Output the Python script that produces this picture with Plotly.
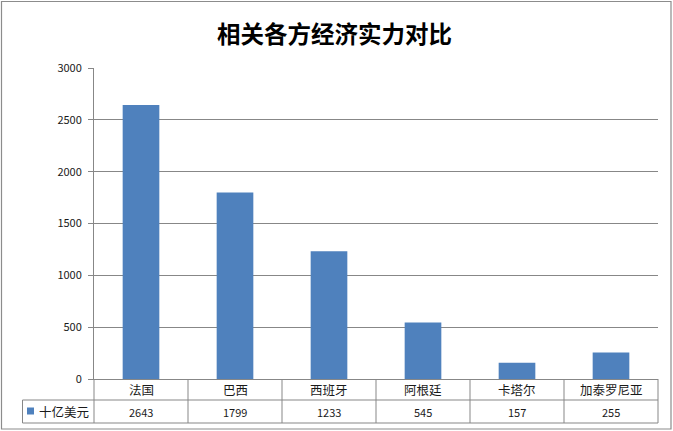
import plotly.graph_objects as go

# 数据
categories = ["法国", "巴西", "西班牙", "阿根廷", "卡塔尔", "加泰罗尼亚"]
values = [2643, 1799, 1233, 545, 157, 255]
series_name = "十亿美元"
y_ticks = [0, 500, 1000, 1500, 2000, 2500, 3000]

# 样式常量
BAR_COLOR = "#4F81BD"
LINE_COLOR = "#878787"
FONT = "Noto Sans CJK SC"

W, H = 673, 431
L, R, T, B = 94, 15, 68, 52


def px_x(p):
    """像素 x -> paper 坐标"""
    return (p - L) / (W - L - R)


def px_y(p):
    """像素 y -> paper 坐标"""
    return (H - B - p) / (H - T - B)


fig = go.Figure()
fig.add_trace(go.Bar(
    x=categories,
    y=values,
    name=series_name,
    marker=dict(color=BAR_COLOR, line=dict(width=0)),
    width=0.39,
    showlegend=False,
))

fig.update_layout(
    width=W,
    height=H,
    margin=dict(l=L, r=R, t=T, b=B),
    paper_bgcolor="white",
    plot_bgcolor="white",
    font=dict(family=FONT, color="#1a1a1a"),
    title=dict(
        text="<b>相关各方经济实力对比</b>",
        x=0.497, xanchor="center",
        y=1 - 35 / H, yanchor="middle",
        font=dict(size=23.5, color="#000000", family=FONT),
    ),
)

fig.update_xaxes(
    showticklabels=False,
    showgrid=False,
    showline=True,
    linecolor=LINE_COLOR,
    linewidth=1,
    ticks="",
    range=[-0.5, len(categories) - 0.5],
)
fig.update_yaxes(
    range=[0, 3000],
    tickvals=y_ticks,
    showgrid=True,
    gridcolor=LINE_COLOR,
    gridwidth=1,
    zeroline=False,
    showline=True,
    linecolor=LINE_COLOR,
    linewidth=1,
    ticks="outside",
    ticklen=5,
    tickcolor=LINE_COLOR,
    tickfont=dict(size=11, color="#1a1a1a", family=FONT),
    ticklabelstandoff=4,
)

shapes = []
y_mid = px_y(400)
y_bot = px_y(423)
# 表格横线
shapes.append(dict(type="line", xref="paper", yref="paper",
                   x0=0, x1=1, y0=y_mid, y1=y_mid,
                   line=dict(color=LINE_COLOR, width=1)))
shapes.append(dict(type="line", xref="paper", yref="paper",
                   x0=px_x(22.5), x1=1, y0=y_bot, y1=y_bot,
                   line=dict(color=LINE_COLOR, width=1)))
shapes.append(dict(type="line", xref="paper", yref="paper",
                   x0=px_x(22.5), x1=0, y0=y_mid, y1=y_mid,
                   line=dict(color=LINE_COLOR, width=1)))
shapes.append(dict(type="line", xref="paper", yref="paper",
                   x0=px_x(22.5), x1=px_x(22.5), y0=y_mid, y1=y_bot,
                   line=dict(color=LINE_COLOR, width=1)))
# 表格竖线
n = len(categories)
for i in range(n + 1):
    xp = i / n
    shapes.append(dict(type="line", xref="paper", yref="paper",
                       x0=xp, x1=xp, y0=0, y1=y_bot,
                       line=dict(color=LINE_COLOR, width=1)))
# 图表外框
shapes.append(dict(type="rect", xref="paper", yref="paper",
                   x0=px_x(1.5), x1=px_x(671), y0=px_y(429), y1=px_y(1.5),
                   line=dict(color="#8c8c8c", width=1.2)))
# 图例方块
shapes.append(dict(type="rect", xref="paper", yref="paper",
                   x0=px_x(27), x1=px_x(34), y0=px_y(414.5), y1=px_y(407.5),
                   fillcolor=BAR_COLOR, line=dict(width=0)))

annotations = []
for cat, val in zip(categories, values):
    annotations.append(dict(x=cat, xref="x", y=px_y(389.5), yref="paper",
                            text=cat, showarrow=False, yanchor="middle",
                            font=dict(size=12.5, family=FONT, color="#1a1a1a")))
    annotations.append(dict(x=cat, xref="x", y=px_y(411.5), yref="paper",
                            text=str(val), showarrow=False, yanchor="middle",
                            font=dict(size=11, family=FONT, color="#1a1a1a")))
annotations.append(dict(x=px_x(37), xref="paper", y=px_y(411.5), yref="paper",
                        text=series_name, showarrow=False,
                        xanchor="left", yanchor="middle",
                        font=dict(size=12.5, family=FONT, color="#1a1a1a")))

fig.update_layout(shapes=shapes, annotations=annotations)

# 去掉页面默认边距，使图表贴齐窗口左上角
fig.write_html(
    "out.html",
    config={"displayModeBar": False},
    post_script="document.body.style.margin='0';",
)
